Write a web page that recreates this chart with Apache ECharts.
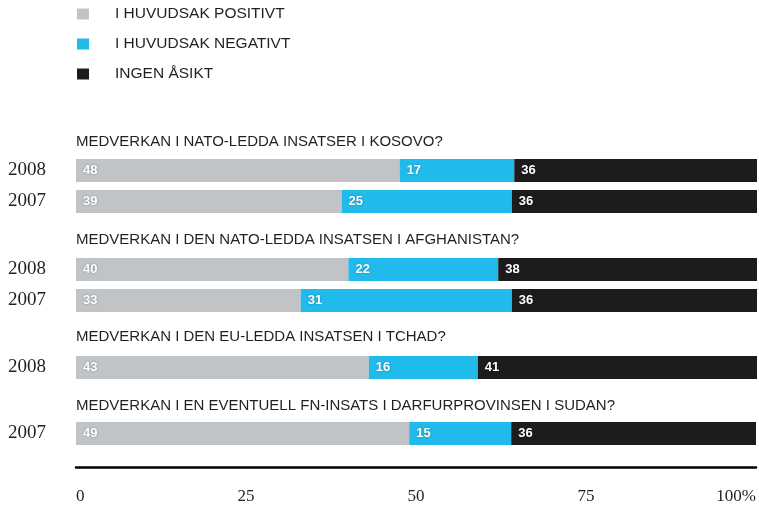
<!DOCTYPE html>
<html>
<head>
<meta charset="utf-8">
<script src="https://cdn.jsdelivr.net/npm/echarts@6/dist/echarts.min.js"></script>
<style>
  html, body { margin: 0; padding: 0; background: #fff; }
  #chart { width: 759px; height: 508px; }
</style>
</head>
<body>
<div id="chart"></div>
<script>
// legend / series names
const seriesNames = ['I HUVUDSAK POSITIVT', 'I HUVUDSAK NEGATIVT', 'INGEN ÅSIKT'];
const seriesColors = ['#c0c4c7', '#20bbea', '#1d1b1e'];

// one entry per question group
const questions = [
    'MEDVERKAN I NATO-LEDDA INSATSER I KOSOVO?',
    'MEDVERKAN I DEN NATO-LEDDA INSATSEN I AFGHANISTAN?',
    'MEDVERKAN I DEN EU-LEDDA INSATSEN I TCHAD?',
    'MEDVERKAN I EN EVENTUELL FN-INSATS I DARFURPROVINSEN I SUDAN?'
];
const years = [['2008', '2007'], ['2008', '2007'], ['2008'], ['2007']];
const positive = [[48, 39], [40, 33], [43], [49]];
const negative = [[17, 25], [22, 31], [16], [15]];
const noOpinion = [[36, 36], [38, 36], [41], [36]];

const xTicks = [0, 25, 50, 75, 100];

// layout of each group's grid (pixels)
const gridTops = [155, 254, 352, 418];
const rowHeight = 31;
const titleTops = [134, 232, 329, 398];

const values = [positive, negative, noOpinion];

let myChart = echarts.init(document.getElementById('chart'));

const grids = [];
const xAxes = [];
const yAxes = [];
const titles = [];
const series = [];

questions.forEach(function (q, g) {
    grids.push({
        left: 76,
        right: 2,
        top: gridTops[g],
        height: rowHeight * years[g].length
    });
    const isLast = g === questions.length - 1;
    xAxes.push({
        gridIndex: g,
        type: 'value',
        min: xTicks[0],
        max: xTicks[xTicks.length - 1],
        interval: 25,
        show: isLast,
        offset: 18,
        axisLine: { show: true, lineStyle: { color: '#000', width: 2.5 } },
        axisTick: { show: false },
        splitLine: { show: false },
        axisLabel: {
            margin: 21,
            fontFamily: 'Liberation Serif',
            fontSize: 17,
            color: '#231f20',
            alignMinLabel: 'left',
            alignMaxLabel: 'right',
            formatter: function (v) { return v === 100 ? '100%' : String(v); }
        }
    });
    yAxes.push({
        gridIndex: g,
        type: 'category',
        inverse: true,
        data: years[g],
        axisLine: { show: false },
        axisTick: { show: false },
        axisLabel: {
            margin: 30,
            fontFamily: 'Liberation Serif',
            fontSize: 19,
            color: '#231f20'
        }
    });
    titles.push({
        text: q,
        left: 76,
        top: titleTops[g],
        padding: 0,
        textStyle: {
            fontFamily: 'Liberation Sans',
            fontSize: 15,
            fontWeight: 'normal',
            color: '#231f20'
        }
    });
    seriesNames.forEach(function (name, s) {
        series.push({
            name: name,
            type: 'bar',
            stack: 'total' + g,
            xAxisIndex: g,
            yAxisIndex: g,
            barWidth: 23,
            itemStyle: { color: seriesColors[s] },
            label: {
                show: true,
                position: 'insideLeft',
                distance: 7,
                fontFamily: 'Liberation Sans',
                fontWeight: 'bold',
                fontSize: 13,
                color: '#fff',
                textShadowColor: 'rgba(0,0,0,0.35)',
                textShadowBlur: 2,
                formatter: function (p) { return values[s][g][p.dataIndex]; }
            },
            // bars are drawn as share of the row total so each row fills 100
            data: values[s][g].map(function (v, i) {
                const total = positive[g][i] + negative[g][i] + noOpinion[g][i];
                return v * 100 / total;
            })
        });
    });
});

const option = {
    animation: false,
    title: titles,
    legend: {
        orient: 'vertical',
        left: 77,
        top: 6,
        padding: 0,
        itemWidth: 12,
        itemHeight: 11,
        itemGap: 14,
        icon: 'rect',
        data: seriesNames,
        textStyle: {
            fontFamily: 'Liberation Sans',
            fontSize: 15.5,
            color: '#231f20',
            padding: [0, 0, 0, 21]
        }
    },
    grid: grids,
    xAxis: xAxes,
    yAxis: yAxes,
    series: series
};
myChart.setOption(option);
</script>
</body>
</html>
